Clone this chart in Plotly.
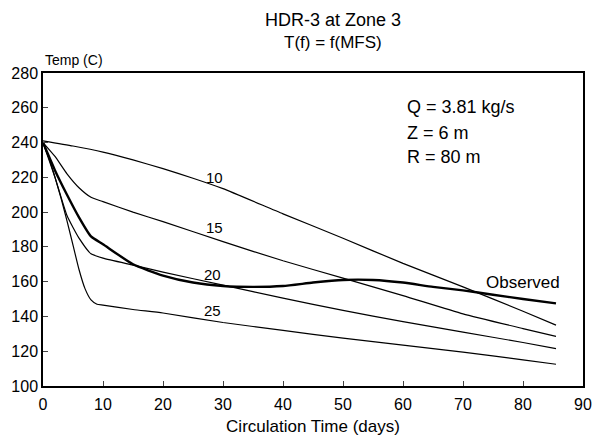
import plotly.graph_objects as go

# ---- data ----
days_10 = [0, 5, 10, 15, 20, 25, 30, 40, 50, 60, 70, 80, 85.5]
temp_10 = [241, 238, 234.5, 230, 225, 219.5, 213.5, 199, 185, 170.5, 157, 143, 135]

days_15 = [0, 2, 4, 6, 8, 10, 15, 20, 30, 40, 50, 60, 70, 80, 85.5]
temp_15 = [240, 232, 222, 214, 208.5, 206, 200, 194.5, 183, 172, 162, 152, 141.5, 133, 128.5]

days_20 = [0, 2, 4, 6, 8, 10, 15, 20, 30, 40, 50, 60, 70, 80, 85.5]
temp_20 = [240, 220, 198, 185, 176, 173.5, 169.5, 165.5, 158, 150.5, 143.5, 137, 131, 125, 121.5]

days_25 = [0, 1, 2, 3, 4, 5, 6, 7, 8, 9, 10, 15, 20, 30, 40, 50, 60, 70, 80, 85.5]
temp_25 = [240, 231, 220, 208, 195, 181, 167, 156, 149.5, 147, 146.5, 144, 142, 136.5, 132, 127.5, 123.5, 119.5, 115, 112.5]

days_obs = [0, 2, 4, 6, 8, 10, 15, 20, 25, 30, 35, 40, 45, 50, 55, 60, 65, 70, 75, 80, 85.5]
temp_obs = [240, 224, 210, 197, 186, 181.5, 170, 163.5, 159.5, 157.5, 157, 157.5, 159.5, 161, 161, 159.5, 157, 155, 152.5, 150, 147.5]

curve_labels = ["10", "15", "20", "25", "Observed"]
label_x = [28.6, 28.6, 28.3, 28.3, 80]
label_y = [219.8, 191.1, 164.4, 143.4, 159.7]
label_size = [15, 15, 15, 15, 17]

info_lines = ["Q = 3.81 kg/s", "Z = 6 m", "R = 80 m"]
info_y = [260.4, 245.5, 231.8]
info_x = 60.3

x_ticks = [0, 10, 20, 30, 40, 50, 60, 70, 80, 90]
y_ticks = [100, 120, 140, 160, 180, 200, 220, 240, 260, 280]

FONT = "Liberation Sans, Arial, Helvetica, sans-serif"

fig = go.Figure()
for xs, ys, w in [(days_10, temp_10, 1.2), (days_15, temp_15, 1.2),
                  (days_20, temp_20, 1.2), (days_25, temp_25, 1.2),
                  (days_obs, temp_obs, 2.4)]:
    fig.add_trace(go.Scatter(x=xs, y=ys, mode="lines",
                             line=dict(color="black", width=w, shape="spline", smoothing=0.5),
                             showlegend=False, hoverinfo="skip"))

for t, x, y, s in zip(curve_labels, label_x, label_y, label_size):
    fig.add_annotation(x=x, y=y, text=t, showarrow=False, xref="x", yref="y",
                       xanchor="center", yanchor="middle",
                       font=dict(family=FONT, size=s, color="black"))

for t, y in zip(info_lines, info_y):
    fig.add_annotation(x=info_x, y=y, text=t, showarrow=False, xref="x", yref="y",
                       xanchor="left", yanchor="middle",
                       font=dict(family=FONT, size=18, color="black"))

fig.add_annotation(x=0.537, y=1.169, xref="paper", yref="paper", text="HDR-3 at Zone 3",
                   xanchor="center", yanchor="middle",
                   showarrow=False, font=dict(family=FONT, size=18, color="black"))
fig.add_annotation(x=0.537, y=1.096, xref="paper", yref="paper", text="T(f) = f(MFS)",
                   xanchor="center", yanchor="middle",
                   showarrow=False, font=dict(family=FONT, size=17, color="black"))
fig.add_annotation(x=0.0, y=1.042, xref="paper", yref="paper", text="Temp (C)",
                   xanchor="left", yanchor="middle",
                   showarrow=False, font=dict(family=FONT, size=14, color="black"))

fig.update_layout(
    width=593, height=438,
    margin=dict(l=43, r=10, t=73, b=52),
    paper_bgcolor="white", plot_bgcolor="white",
    font=dict(family=FONT, size=16, color="black"),
)
fig.update_xaxes(range=[0, 90], tickvals=x_ticks, ticks="inside", ticklen=5,
                 showline=True, linecolor="black", linewidth=1.5, mirror=True,
                 showgrid=False, zeroline=False, automargin=False, ticklabelstandoff=3,
                 title=dict(text="Circulation Time (days)", standoff=8,
                            font=dict(family=FONT, size=17)))
fig.update_yaxes(range=[100, 280], tickvals=y_ticks, ticks="inside", ticklen=5,
                 showline=True, linecolor="black", linewidth=1.5, mirror=True,
                 showgrid=False, zeroline=False, automargin=False)

# remove the default 8 px page margin so the 593x438 figure fills the window exactly
fig.write_html("out.html", config={"displayModeBar": False},
               post_script="document.body.style.margin='0';")
